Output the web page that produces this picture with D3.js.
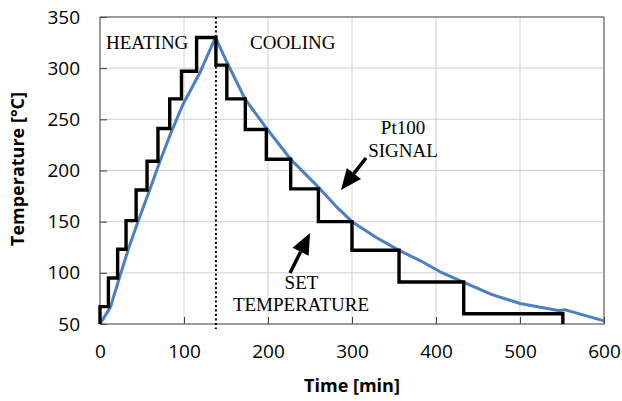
<!DOCTYPE html>
<html>
<head>
<meta charset="utf-8">
<script src="https://cdn.jsdelivr.net/npm/d3@7"></script>
<style>
  html, body { margin: 0; padding: 0; background: #fff; }
  svg { display: block; }
</style>
</head>
<body>
<svg id="chart" width="622" height="401"></svg>
<script>
// ---- data ----
const xTicks = [0, 100, 200, 300, 400, 500, 600];
const yTicks = [50, 100, 150, 200, 250, 300, 350];

// Set temperature (step-after)
const setTimes = [0, 0, 10, 21, 31, 43, 56, 69, 83, 97, 115, 138, 151, 173, 198, 227, 260, 300, 356, 433, 551];
const setTemps = [50, 67, 95, 123, 151, 181, 209, 241, 270, 297, 330, 303, 270, 240, 211, 182, 150, 122, 91, 60, 50];

// Pt100 signal
const sigTimes = [0, 12.7, 23, 33.7, 45.6, 58.7, 71.4, 85, 99, 118, 137.5, 151, 172.6, 198.5, 227, 262, 281, 300, 328, 356, 381, 405, 432.5, 466, 500, 547, 553, 600];
const sigTemps = [50, 67, 95, 123, 151, 180, 209, 238, 265, 294, 330, 306, 270, 241, 211, 182, 165, 150, 135, 122, 112, 101, 91, 79, 70, 63, 64, 53];

const coolingStart = 138;

// ---- layout ----
const L = 100, T = 17, R = 604, B = 324;
const svg = d3.select("#chart");
const x = d3.scaleLinear().domain([0, 600]).range([L, R]);
const y = d3.scaleLinear().domain([50, 350]).range([B, T]);

// grid
svg.append("g").selectAll("line.h").data(yTicks).join("line")
  .attr("x1", L).attr("x2", R).attr("y1", d => y(d)).attr("y2", d => y(d))
  .attr("stroke", "#d0d0d0").attr("stroke-width", 1);
svg.append("g").selectAll("line.v").data(xTicks).join("line")
  .attr("x1", d => x(d)).attr("x2", d => x(d)).attr("y1", T).attr("y2", B)
  .attr("stroke", "#d0d0d0").attr("stroke-width", 1);

// axes (labels + inward ticks)
const yAxis = svg.append("g").attr("transform", `translate(${L},0)`)
  .call(d3.axisLeft(y).tickValues(yTicks).tickSizeInner(-7).tickSizeOuter(0).tickPadding(20));
const xAxis = svg.append("g").attr("transform", `translate(0,${B})`)
  .call(d3.axisBottom(x).tickValues(xTicks).tickSizeInner(-7).tickSizeOuter(0).tickPadding(21));
[yAxis, xAxis].forEach(g => {
  g.select(".domain").remove();
  g.selectAll(".tick line").attr("stroke", "#404040");
  g.selectAll("text").attr("font-family", "'Open Sans', sans-serif")
    .attr("font-size", 19).attr("fill", "#000");
});

// border
svg.append("rect").attr("x", L).attr("y", T).attr("width", R - L).attr("height", B - T)
  .attr("fill", "none").attr("stroke", "#505050").attr("stroke-width", 1);

// dotted divider
svg.append("line")
  .attr("x1", x(coolingStart)).attr("x2", x(coolingStart))
  .attr("y1", T).attr("y2", B + 5)
  .attr("stroke", "#000").attr("stroke-width", 2).attr("stroke-dasharray", "2,2.5");

// Pt100 signal line
const sigData = sigTimes.map((t, i) => [t, sigTemps[i]]);
svg.append("path").datum(sigData)
  .attr("d", d3.line().x(d => x(d[0])).y(d => y(d[1])).curve(d3.curveLinear))
  .attr("fill", "none").attr("stroke", "#4a7fc1").attr("stroke-width", 3)
  .attr("stroke-linejoin", "round");

// set temperature step line
const setData = setTimes.map((t, i) => [t, setTemps[i]]);
svg.append("path").datum(setData)
  .attr("d", d3.line().x(d => x(d[0])).y(d => y(d[1])).curve(d3.curveStepAfter))
  .attr("fill", "none").attr("stroke", "#000").attr("stroke-width", 3.4)
  .attr("stroke-linejoin", "miter");

// annotation text
const serif = "'Liberation Serif', 'Times New Roman', serif";
function txt(s, px, py, anchor) {
  svg.append("text").attr("x", px).attr("y", py).attr("text-anchor", anchor || "start")
    .attr("font-family", serif).attr("font-size", 19).attr("fill", "#000").text(s);
}
txt("HEATING", 106, 49);
txt("COOLING", 250, 49);
txt("Pt100", 403, 134, "middle");
txt("SIGNAL", 403, 157, "middle");
txt("SET", 301.5, 289, "middle");
txt("TEMPERATURE", 301, 311, "middle");

// arrows
function arrow(x1, y1, x2, y2) {
  const ang = Math.atan2(y2 - y1, x2 - x1);
  const hl = 21, hw = 9;
  const bx = x2 - hl * Math.cos(ang), by = y2 - hl * Math.sin(ang);
  svg.append("line").attr("x1", x1).attr("y1", y1).attr("x2", bx).attr("y2", by)
    .attr("stroke", "#000").attr("stroke-width", 3.5);
  const px = -Math.sin(ang), py = Math.cos(ang);
  svg.append("path")
    .attr("d", `M${x2},${y2}L${bx + hw * px},${by + hw * py}L${bx - hw * px},${by - hw * py}Z`)
    .attr("fill", "#000");
}
arrow(366, 158, 341, 190);
arrow(290, 273, 310, 233);

// axis titles
svg.append("text").attr("x", 352).attr("y", 392).attr("text-anchor", "middle")
  .attr("font-family", "'Open Sans', sans-serif").attr("font-weight", "bold")
  .attr("font-size", 18).text("Time [min]");
svg.append("text").attr("transform", "translate(24,169) rotate(-90)").attr("text-anchor", "middle")
  .attr("font-family", "'Open Sans', sans-serif").attr("font-weight", "bold")
  .attr("font-size", 18).text("Temperature [°C]");
</script>
</body>
</html>
